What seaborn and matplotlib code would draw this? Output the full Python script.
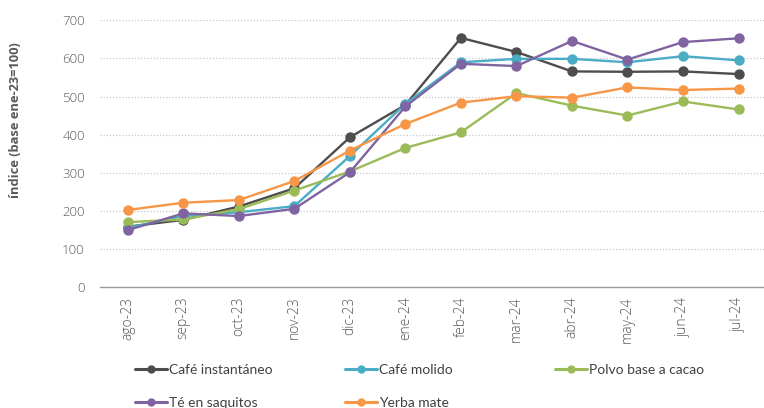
import numpy as np
import pandas as pd
import seaborn as sns
import matplotlib.pyplot as plt
from matplotlib.lines import Line2D

months = ["ago-23", "sep-23", "oct-23", "nov-23", "dic-23", "ene-24",
          "feb-24", "mar-24", "abr-24", "may-24", "jun-24", "jul-24"]

cafe_instantaneo = [158, 176, 211, 259, 393, 478, 654, 617, 566, 565, 566, 559]
cafe_molido = [155, 186, 196, 212, 344, 481, 590, 599, 599, 590, 606, 595]
polvo_cacao = [170, 177, 204, 253, 303, 365, 406, 509, 476, 450, 487, 466]
te_saquitos = [149, 193, 186, 205, 301, 474, 586, 580, 646, 597, 643, 653]
yerba_mate = [202, 221, 228, 278, 358, 428, 484, 501, 497, 524, 517, 521]

series_names = ["Café instantáneo", "Café molido", "Polvo base a cacao",
                "Té en saquitos", "Yerba mate"]
series_values = [cafe_instantaneo, cafe_molido, polvo_cacao, te_saquitos, yerba_mate]
colors = ["#4d4d4d", "#4bacc6", "#9bbb59", "#8064a2", "#f79646"]

rows = []
for name, vals in zip(series_names, series_values):
    for i, (m, v) in enumerate(zip(months, vals)):
        rows.append({"pos": i, "mes": m, "serie": name, "valor": v})
df = pd.DataFrame(rows)

sns.set_theme(style="white")
plt.rcParams["font.family"] = ["Open Sans", "DejaVu Sans"]

fig = plt.figure(figsize=(7.64, 4.08), dpi=100)
ax = fig.add_axes([0.131, 0.297, 0.872, 0.653])

palette = dict(zip(series_names, colors))
sns.lineplot(data=df, x="pos", y="valor", hue="serie", palette=palette,
             hue_order=series_names, marker="o", markersize=7.5, linewidth=1.7,
             markeredgewidth=0, ax=ax, legend=False)

ax.set_xlim(-0.5, len(months) - 0.5)
ax.set_ylim(0, 700)
ax.set_yticks(np.arange(0, 701, 100))
ax.set_xticks(range(len(months)))
ax.set_xticklabels(months, rotation=90, fontsize=10, color="#595959",
                   fontweight="light")
ax.set_xticks(np.arange(-0.5, len(months), 1), minor=True)
ax.tick_params(axis="x", which="major", length=0, pad=7)
ax.tick_params(axis="x", which="minor", length=5, color="#999999", width=1, direction="out")
ax.tick_params(axis="y", length=0, labelsize=9.5, labelcolor="#595959", pad=11)
for t in ax.get_yticklabels():
    t.set_fontweight("light")
ax.grid(axis="y", color="#c8c8c8", linestyle=(0, (1, 1.5)), linewidth=0.9)
ax.set_axisbelow(True)
for s in ["top", "right", "left"]:
    ax.spines[s].set_visible(False)
ax.spines["bottom"].set_color("#999999")
ax.spines["bottom"].set_linewidth(1)
ax.set_xlabel("")
ax.set_ylabel("índice (base ene-23=100)", fontsize=9.3, fontweight="bold",
              color="#595959")
ax.yaxis.set_label_coords(-0.117, 0.625)

def handle(c):
    return Line2D([], [], color=c, linewidth=2.2, marker="o", markersize=5)

col_x = [0.177, 0.452, 0.727]
groups = [[0, 3], [1, 4], [2]]
for x, g in zip(col_x, groups):
    leg = fig.legend([handle(colors[i]) for i in g], [series_names[i] for i in g],
                     loc="upper left", bbox_to_anchor=(x, 1 - 364 / 408),
                     bbox_transform=fig.transFigure, frameon=False,
                     prop={"family": ["Lato", "DejaVu Sans"], "size": 10},
                     handlelength=2.3, handletextpad=0.15,
                     labelspacing=1.5, borderaxespad=0, borderpad=0)
    for t in leg.get_texts():
        t.set_color("#404040")

fig.savefig("out.png", dpi=100)
